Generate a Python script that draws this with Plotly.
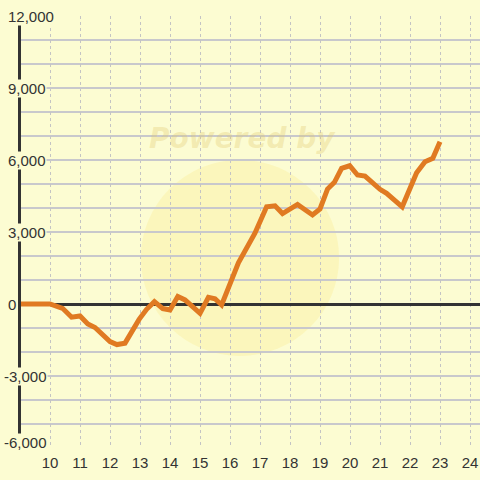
import plotly.graph_objects as go

# Data
x_vals = [9.0, 10.0, 10.42, 10.72, 11.0, 11.26, 11.5, 12.0, 12.23, 12.5, 12.97, 13.22, 13.48,
          13.76, 14.0, 14.26, 14.5, 15.0, 15.28, 15.5, 15.72, 16.28, 16.83, 17.22, 17.5, 17.75,
          18.25, 18.75, 19.0, 19.25, 19.48, 19.72, 19.99, 20.25, 20.5, 21.0, 21.22, 21.56, 21.74,
          22.22, 22.5, 22.76, 23.0]
y_vals = [0, 0, -180, -550, -500, -830, -980, -1570, -1690, -1630, -640, -220, 100,
          -190, -250, 310, 170, -390, 280, 220, -40, 1720, 2950, 4050, 4090, 3770,
          4150, 3710, 3960, 4790, 5070, 5650, 5760, 5375, 5330, 4780, 4610, 4220, 4050,
          5470, 5930, 6070, 6760]

x_ticks = list(range(10, 25))
y_ticks = [-6000, -3000, 0, 3000, 6000, 9000, 12000]

BG = "#fcfcd2"
LINE = "#e07a22"
FONT = "Liberation Sans, Arial, sans-serif"

fig = go.Figure()
fig.add_trace(go.Scatter(x=x_vals, y=y_vals, mode="lines",
                         line=dict(color=LINE, width=5), hoverinfo="skip"))

PW = 459.0
annotations = []
for v in y_ticks:
    annotations.append(dict(
        x=(-18 if v < 0 else -14) / PW, xref="paper", y=v, yref="y", text=f"{v:,}",
        showarrow=False, xanchor="left", yanchor="middle",
        yshift=(6 if v == y_ticks[0] else 0),
        font=dict(family=FONT, size=15, color="#333333"),
        bgcolor=BG, borderpad=0))

annotations.append(dict(
    x=0.483, xref="paper", y=0.76, yref="paper", text="<b><i>Powered by</i></b>",
    showarrow=False, font=dict(family="DejaVu Sans", size=28, color="rgba(225,200,110,0.32)")))

fig.update_layout(
    width=480, height=480,
    margin=dict(l=21, r=0, t=16, b=32, autoexpand=False),
    paper_bgcolor=BG, plot_bgcolor=BG,
    showlegend=False,
    annotations=annotations,
    shapes=[dict(type="circle", xref="paper", yref="paper",
                 x0=0.261, x1=0.693, y0=0.213, y1=0.667, layer="below",
                 line=dict(width=0), fillcolor="rgba(252,226,110,0.22)")],
    xaxis=dict(range=[9.033, 24.333], tickmode="array", tickvals=x_ticks,
               showgrid=True, gridcolor="#c4c4c4", gridwidth=1, griddash="3px,3px",
               zeroline=False, showline=False, ticks="", automargin=False,
               ticklabelstandoff=4,
               tickfont=dict(family=FONT, size=15, color="#333333")),
    yaxis=dict(range=[-6000, 12000], tickmode="array", tickvals=y_ticks,
               showticklabels=False, showgrid=True, gridcolor="#c8c8cc", gridwidth=1.5,
               minor=dict(dtick=1000, showgrid=True, gridcolor="#c8c8cc", gridwidth=1.5),
               zeroline=True, zerolinecolor="#333333", zerolinewidth=3, automargin=False,
               showline=True, linecolor="#333333", linewidth=3, ticks=""),
)

fig.write_html("out.html", config={"displayModeBar": False},
               post_script="document.body.style.margin='0';document.body.style.background='" + BG + "';")
